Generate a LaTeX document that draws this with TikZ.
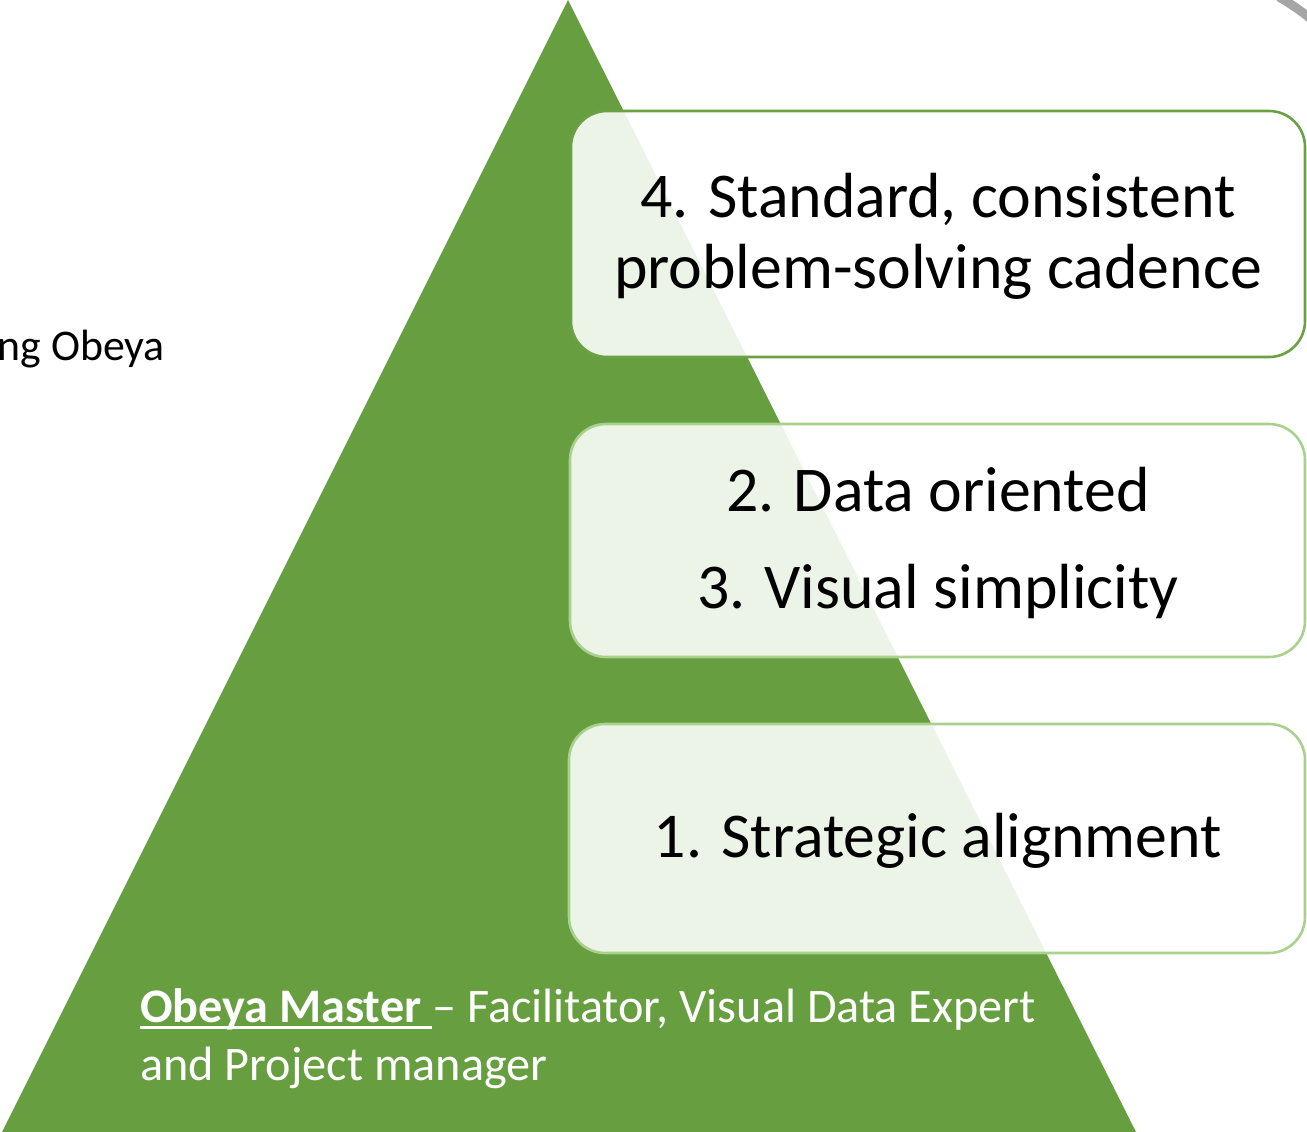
\documentclass[tikz,border=0pt]{standalone}
\usepackage{fontspec}
\setmainfont{Carlito}
\definecolor{tri}{HTML}{669E40}
\definecolor{bdark}{HTML}{6AA145}
\definecolor{blight}{HTML}{A9D18E}
\definecolor{arcgray}{HTML}{A6A6A6}
\newcommand\myul[1]{\setbox0\hbox{#1}\rlap{\rule[-7pt]{\wd0}{2.6pt}}\box0}
\begin{document}
\begin{tikzpicture}[x=1pt,y=-1pt,
  box/.style={rounded corners=36pt, fill=white, fill opacity=0.88, line width=2.6pt},
  bigtxt/.style={font=\fontsize{63.8}{72}\selectfont, anchor=base, inner sep=0pt, text=black},
  whitetxt/.style={font=\fontsize{48.2}{58}\selectfont, anchor=base west, inner sep=0pt, text=white}]
\useasboundingbox (0,0) rectangle (1307,1132);
\clip (0,0) rectangle (1307,1132);
% pyramid
\fill[tri] (568,0) -- (1136,1132) -- (2,1132) -- cycle;
% gray arc
\draw[arcgray, line width=9pt] (1279,-3) .. controls (1291,4) and (1300,10) .. (1312,20);
% boxes
\draw[box, draw=bdark] (571,111) rectangle (1305,357);
\draw[box, draw=blight] (570,424) rectangle (1305,657);
\draw[box, draw=blight] (569,724) rectangle (1305,953);
% box texts
\node[bigtxt] (t4a) at (938,217) {4. Standard, consistent};
\node[bigtxt] (t4b) at (938,288) {problem-solving cadence};
\node[bigtxt] (t2) at (938,511) {2. Data oriented};
\node[bigtxt] (t3) at (938,608) {3. Visual simplicity};
\node[bigtxt] (t1) at (938,857) {1. Strategic alignment};
% left text
\node[font=\fontsize{43.8}{52}\selectfont, anchor=base east, inner sep=0pt] (obeya) at (165,360) {ng Obeya};
% bottom text
\node[whitetxt] (m1) at (140,1022) {\myul{\textbf{Obeya Master }}– Facilitator, Visual Data Expert};
\node[whitetxt] (m2) at (140,1080) {and Project manager};
\end{tikzpicture}
\end{document}
